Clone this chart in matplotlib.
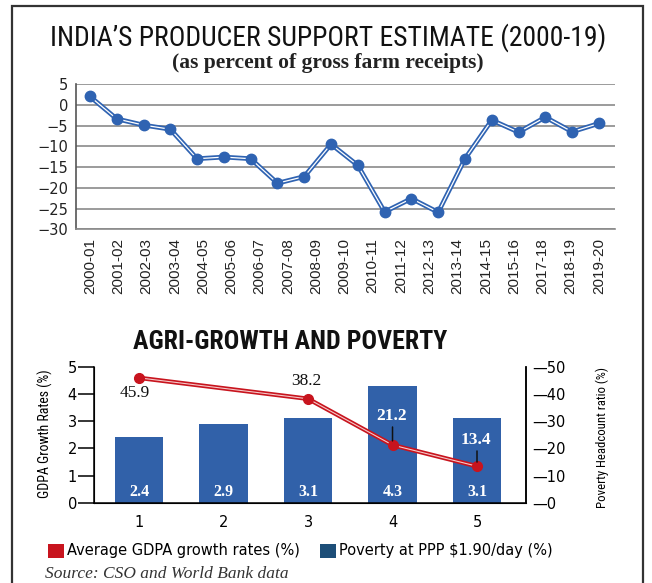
import matplotlib
matplotlib.use("Agg")
import matplotlib.pyplot as plt
import numpy as np
from matplotlib import font_manager
from matplotlib.patches import Patch, Rectangle
from matplotlib.ticker import FuncFormatter

# ---------------- data ----------------
pse_values = [2.0, -3.4, -4.9, -5.9, -13.0, -12.6, -13.0, -18.9, -17.3, -9.5,
              -14.6, -25.8, -22.6, -25.9, -13.0, -3.7, -6.6, -3.0, -6.5, -4.5]
year_labels = ["2000-01", "2001-02", "2002-03", "2003-04", "2004-05", "2005-06",
               "2006-07", "2007-08", "2008-09", "2009-10", "2010-11", "2011-12",
               "2012-13", "2013-14", "2014-15", "2015-16", "2017-18", "2018-19",
               "2019-20"]
pse_yticks = [5, 0, -5, -10, -15, -20, -25, -30]

periods = [1, 2, 3, 4, 5]
gdpa_growth = [2.4, 2.9, 3.1, 4.3, 3.1]
poverty_periods = [1, 3, 4, 5]
poverty_ratio = [45.9, 38.2, 21.2, 13.4]
gdpa_ticks = [0, 1, 2, 3, 4, 5]
poverty_ticks = [0, 10, 20, 30, 40, 50]

# ---------------- style ----------------
BLUE = "#2f63b2"
BAR = "#3161a9"
RED = "#c8141e"
NAVY = "#1d4e78"

# pick a condensed sans family if one is installed
_names = {f.name for f in font_manager.fontManager.ttflist}
_cond = [n for n in ("Liberation Sans Narrow", "Roboto Condensed",
                     "Open Sans Condensed", "DejaVu Sans Condensed",
                     "Noto Sans Condensed") if n in _names]
NARROW = (_cond[:1] or []) + ["Liberation Sans", "DejaVu Sans"]

W, H = 652, 583
fig = plt.figure(figsize=(W / 100, H / 100), dpi=100)
fig.patch.set_facecolor("white")
renderer = fig.canvas.get_renderer()


def fx(px):
    return px / W


def fy(py):
    return 1 - py / H


def fit_width(txt, target_px):
    """Scale the font size so the text spans target_px horizontally."""
    for _ in range(3):
        w = txt.get_window_extent(renderer=renderer).width
        txt.set_fontsize(txt.get_fontsize() * target_px / w)


def fit_height(txt, target_px):
    for _ in range(3):
        h = txt.get_window_extent(renderer=renderer).height
        txt.set_fontsize(txt.get_fontsize() * target_px / h)


# outer frame
fig.add_artist(Rectangle((fx(12), fy(592)), fx(643) - fx(12), fy(6) - fy(592),
                         transform=fig.transFigure, fill=False,
                         edgecolor="#333333", lw=1.6))

# ---------------- titles ----------------
t1 = fig.text(fx(328), fy(38), "INDIA\u2019S PRODUCER SUPPORT ESTIMATE (2000-19)",
              ha="center", va="center", fontsize=20, family=NARROW,
              fontstretch="condensed", color="#111111")
fit_width(t1, 556)
t2 = fig.text(fx(328), fy(63), "(as percent of gross farm receipts)",
              ha="center", va="center", fontsize=15.5, family="Liberation Serif",
              weight="bold", color="#222222")

# ---------------- top chart ----------------
ax1 = fig.add_axes([fx(76), fy(229.3), fx(615) - fx(76), fy(84) - fy(229.3)])
x = np.arange(len(pse_values))
ax1.plot(x, pse_values, color=BLUE, lw=3.4, solid_joinstyle="round", zorder=3)
ax1.plot(x, pse_values, color="white", lw=0.9, zorder=4)
ax1.plot(x, pse_values, "o", ms=7.5, color=BLUE, mec=BLUE, zorder=5)
ax1.set_xlim(-0.52, len(pse_values) - 1 + 0.6)
ax1.set_ylim(min(pse_yticks), max(pse_yticks))
ax1.set_yticks(pse_yticks)
ax1.yaxis.grid(True, color="#8a8a8a", lw=1.2)
ax1.set_axisbelow(True)
ax1.set_xticks(np.linspace(0, len(pse_values) - 1, len(year_labels)))
ax1.set_xticklabels(year_labels, rotation=90, fontsize=11,
                    family="Liberation Sans", color="#222222")
ax1.tick_params(axis="x", length=0, pad=6)
ax1.tick_params(axis="y", length=0, pad=5.5, labelsize=10.5, labelcolor="#222222")
for s in ("top", "right"):
    ax1.spines[s].set_visible(False)
ax1.spines["left"].set_color("#555555")
ax1.spines["left"].set_linewidth(1.2)
ax1.spines["bottom"].set_color("#8a8a8a")
ax1.spines["bottom"].set_linewidth(1.2)

# ---------------- bottom title ----------------
t3 = fig.text(fx(290), fy(342), "AGRI-GROWTH AND POVERTY", ha="center",
              va="center", fontsize=17, weight="bold", family=NARROW,
              fontstretch="condensed", color="#111111")
fit_width(t3, 314)

# ---------------- bottom chart ----------------
ax2 = fig.add_axes([fx(94.3), fy(502.7), fx(526) - fx(94.3), fy(366.7) - fy(502.7)])
ax2.bar(periods, gdpa_growth, width=0.57, color=BAR, zorder=2)
for p, v in zip(periods, gdpa_growth):
    ax2.annotate(f"{v}", xy=(p, 0), xytext=(0, 8), textcoords="offset points",
                 ha="center", va="center", color="white", fontsize=11.5,
                 weight="bold", family="Liberation Serif", zorder=6)
ax2.set_xlim(0.47, 5.58)
ax2.set_ylim(min(gdpa_ticks), max(gdpa_ticks))
ax2.set_yticks(gdpa_ticks)
ax2.set_xticks(periods)
ax2.tick_params(axis="y", direction="out", length=11.5, width=1.1, pad=1,
                labelsize=10.5)
ax2.tick_params(axis="x", length=0, pad=8.5, labelsize=10.5)
ax2.spines["top"].set_visible(False)
for s in ("left", "bottom", "right"):
    ax2.spines[s].set_linewidth(1.1)

ax3 = ax2.twinx()
ax3.set_ylim(min(poverty_ticks), max(poverty_ticks))
ax3.set_yticks(poverty_ticks)
ax3.yaxis.set_major_formatter(FuncFormatter(lambda v, pos: "\u2014" + f"{v:g}"))
ax3.tick_params(axis="y", length=0, pad=4.5, labelsize=10.5)
ax3.spines["top"].set_visible(False)
ax3.spines["right"].set_linewidth(1.1)
ax3.plot(poverty_periods, poverty_ratio, color=RED, lw=3.2,
         solid_joinstyle="round", zorder=3)
ax3.plot(poverty_periods, poverty_ratio, color="#f6c9c9", lw=0.8, zorder=4)
ax3.plot(poverty_periods, poverty_ratio, "o", ms=7, color=RED, mec=RED, zorder=5)

# axis titles (as rotated texts so their length can be matched)
yl = fig.text(fx(45), fy(434), "GDPA Growth Rates (%)", rotation=90,
              ha="center", va="center", family=NARROW, fontstretch="condensed",
              fontsize=9.5)
fit_height(yl, 128)
yr = fig.text(fx(602), fy(437), "Poverty Headcount ratio (%)", rotation=90,
              ha="center", va="center", family=NARROW, fontstretch="condensed",
              fontsize=9)
fit_height(yr, 141)

# value labels for the poverty line
label_style = {0: dict(off=(-3, -11), color="#111111", weight="normal", lead=False),
               1: dict(off=(-1, 13), color="#111111", weight="normal", lead=False),
               2: dict(off=(-1, 21), color="white", weight="bold", lead=True),
               3: dict(off=(-1, 19), color="white", weight="bold", lead=True)}
for i, (p, v) in enumerate(zip(poverty_periods, poverty_ratio)):
    st = label_style[i]
    ax3.annotate(f"{v}", xy=(p, v), xytext=st["off"], textcoords="offset points",
                 ha="center", va="center", color=st["color"], fontsize=12.5,
                 weight=st["weight"], family="Liberation Serif", zorder=7)
    if st["lead"]:
        ax3.annotate("", xy=(p, v), xytext=(0, st["off"][1] - 8),
                     textcoords="offset points",
                     arrowprops=dict(arrowstyle="-", color="#111111", lw=1.1,
                                     shrinkA=0, shrinkB=3), zorder=6)

# ---------------- legend & source ----------------
handles = [Patch(facecolor=RED, label="Average GDPA growth rates (%)"),
           Patch(facecolor=NAVY, label="Poverty at PPP $1.90/day (%)")]
fig.legend(handles=handles, loc="center left", bbox_to_anchor=(fx(48), fy(551)),
           ncol=2, frameon=False, fontsize=10.5, handlelength=1.1,
           handleheight=1.1, handletextpad=0.2, columnspacing=1.4,
           borderpad=0, borderaxespad=0)
fig.text(fx(45), fy(574), "Source: CSO and World Bank data", ha="left",
         va="center", style="italic", family="Liberation Serif", fontsize=12.5,
         color="#333333")

fig.savefig("out.png", dpi=100)
